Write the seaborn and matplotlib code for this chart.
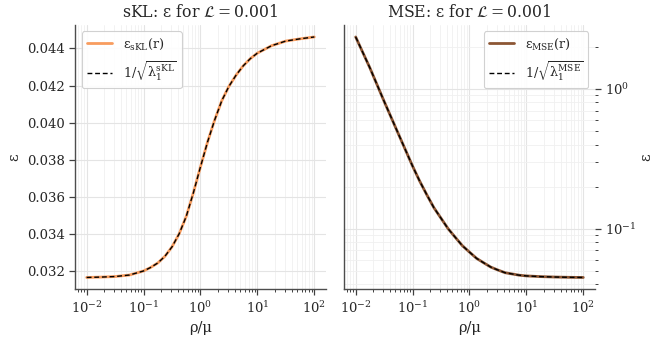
import numpy as np
import pandas as pd
import matplotlib
matplotlib.use("Agg")
import matplotlib.pyplot as plt
import seaborn as sns
from matplotlib.ticker import LogLocator, NullFormatter

# ---- data ----
rho = [0.01, 0.01778, 0.03162, 0.05623, 0.1, 0.1334, 0.1778, 0.2371, 0.3162,
       0.4217, 0.5623, 0.7499, 1.0, 1.334, 1.778, 2.371, 3.162, 4.217, 5.623,
       7.499, 10.0, 17.78, 31.62, 56.23, 100.0]
eps_skl = [0.03166, 0.03168, 0.03171, 0.03179, 0.03201, 0.03220, 0.03244, 0.03280,
           0.03331, 0.03401, 0.03495, 0.03622, 0.03762, 0.03897, 0.04015, 0.04119,
           0.04196, 0.04256, 0.04306, 0.04345, 0.04375, 0.04415, 0.04440, 0.04452,
           0.04462]
eps_mse = [2.350, 1.413, 0.8147, 0.4775, 0.2805, 0.2190, 0.1750, 0.1414, 0.1189,
           0.1000, 0.0869, 0.0757, 0.0681, 0.0614, 0.0571, 0.0532, 0.0507, 0.04853,
           0.04753, 0.04656, 0.04603, 0.0455, 0.04519, 0.04498, 0.04487]

titles = [r"sKL: ε for $\mathcal{L} = 0.001$", r"MSE: ε for $\mathcal{L} = 0.001$"]
labels_eps = [r"$\varepsilon_{sKL}(r)$", r"$\varepsilon_{MSE}(r)$"]
labels_lam = [r"$1/\sqrt{\lambda_1^{sKL}}$", r"$1/\sqrt{\lambda_1^{MSE}}$"]
colors = ["#f89c5e", "#8c5634"]

sns.set_theme(style="ticks", context="paper")
plt.rcParams["font.family"] = ["DejaVu Serif"]
plt.rcParams["mathtext.fontset"] = "dejavuserif"
plt.rcParams["mathtext.default"] = "regular"

df_skl = pd.DataFrame({"r": rho, "eps": eps_skl})
df_mse = pd.DataFrame({"r": rho, "eps": eps_mse})

fig, axes = plt.subplots(1, 2, figsize=(6.54, 3.37), dpi=100)
fig.subplots_adjust(left=0.1151, right=0.9093, bottom=0.141, top=0.926, wspace=0.0743)

for i, (ax, df) in enumerate(zip(axes, [df_skl, df_mse])):
    sns.lineplot(data=df, x="r", y="eps", ax=ax, color=colors[i], lw=2.0,
                 label=labels_eps[i])
    sns.lineplot(data=df, x="r", y="eps", ax=ax, color="black", lw=1.0,
                 linestyle=(0, (3.5, 2.0)), label=labels_lam[i])
    ax.set_xscale("log")
    ax.xaxis.set_major_locator(LogLocator(base=10, numticks=10))
    ax.xaxis.set_minor_locator(LogLocator(base=10, subs=np.arange(2, 10), numticks=20))
    ax.xaxis.set_minor_formatter(NullFormatter())
    ax.set_xlabel("ρ/μ", fontsize=10.5)
    ax.set_ylabel("ε", fontsize=10.5)
    ax.set_title(titles[i], fontsize=11.3)
    ax.grid(which="major", color="#e4e4e4", lw=0.8)
    ax.grid(which="minor", color="#f0f0f0", lw=0.6)
    ax.set_axisbelow(True)
    ax.tick_params(which="major", labelsize=9.5, length=4, width=0.9, color=".25")
    ax.tick_params(which="minor", length=2, width=0.7, color=".25")
    for s in ["left", "bottom"]:
        ax.spines[s].set_color(".3")
        ax.spines[s].set_linewidth(1.0)
    ax.spines["top"].set_visible(False)
    ax.spines["right"].set_visible(False)

ax1, ax2 = axes
ax1.legend(loc="upper left", fontsize=9.2, frameon=True, fancybox=True,
           edgecolor="#cccccc", framealpha=0.9, handlelength=2.0,
           labelspacing=0.6)

ax2.set_yscale("log")
ax2.yaxis.set_minor_locator(LogLocator(base=10, subs=np.arange(2, 10), numticks=20))
ax2.yaxis.set_minor_formatter(NullFormatter())
ax2.yaxis.tick_right()
ax2.yaxis.set_label_position("right")
ax2.set_ylabel("ε", fontsize=10.5, labelpad=2)
ax2.tick_params(axis="y", which="both", left=False, right=True)
ax2.legend(loc="upper right", fontsize=9.2, frameon=True, fancybox=True,
           edgecolor="#cccccc", framealpha=0.9, handlelength=2.0,
           labelspacing=0.6)

fig.savefig("out.png", dpi=100)
